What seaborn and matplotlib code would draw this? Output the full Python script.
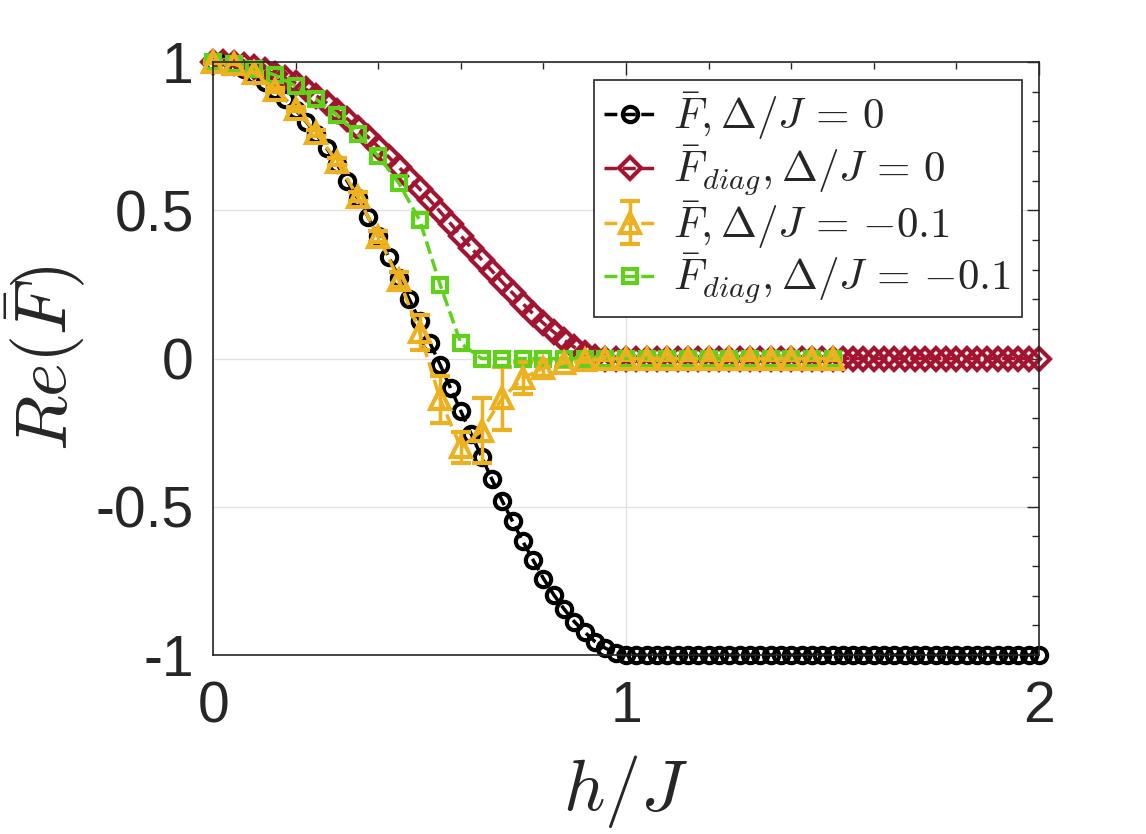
# Re(F) vs h/J, four series
import numpy as np
import matplotlib
matplotlib.use("Agg")
import matplotlib.pyplot as plt
import seaborn as sns
from matplotlib.ticker import MultipleLocator

# data
x_fine = np.round(np.arange(81) * 0.025, 3)    # 0 .. 2, step 0.025
x_coarse = np.round(np.arange(31) * 0.05, 3)   # 0 .. 1.5, step 0.05

F_0 = [1.000, 0.998, 0.991, 0.978, 0.958, 0.932, 0.905, 0.874, 0.838, 0.799,
       0.756, 0.709, 0.655, 0.598, 0.540, 0.478, 0.412, 0.343, 0.272, 0.200,
       0.127, 0.053, -0.022, -0.100, -0.178, -0.255, -0.331, -0.407, -0.480, -0.549,
       -0.617, -0.680, -0.742, -0.797, -0.845, -0.888, -0.923, -0.955, -0.977, -0.993] + [-1.0] * 41

Fdiag_0 = [1.000, 0.999, 0.996, 0.990, 0.982, 0.972, 0.960, 0.945, 0.928, 0.908,
           0.886, 0.862, 0.836, 0.808, 0.778, 0.747, 0.714, 0.680, 0.645, 0.609,
           0.572, 0.534, 0.495, 0.455, 0.414, 0.373, 0.334, 0.296, 0.258, 0.221,
           0.185, 0.151, 0.119, 0.089, 0.062, 0.038, 0.018, 0.005] + [0.0] * 43

F_m01 = [1.000, 0.995, 0.963, 0.906, 0.842, 0.760, 0.664, 0.546, 0.411, 0.266,
         0.088, -0.138, -0.300, -0.244, -0.134, -0.066, -0.032, -0.015, -0.005] + [0.0] * 12
F_m01_err = [0.002, 0.003, 0.005, 0.006, 0.008, 0.010, 0.012, 0.015, 0.018, 0.025,
             0.060, 0.080, 0.053, 0.110, 0.107, 0.055, 0.028, 0.015, 0.008] + [0.004] * 12

Fdiag_m01 = [1.000, 0.994, 0.978, 0.956, 0.919, 0.874, 0.821, 0.757, 0.683, 0.591,
             0.467, 0.248, 0.051] + [0.0] * 18

labels = [r"$\bar{F}, \Delta/J\,=\,0$",
          r"$\bar{F}_{diag}, \Delta/J\,=\,0$",
          r"$\bar{F}, \Delta/J\,=\,{-0.1}$",
          r"$\bar{F}_{diag}, \Delta/J\,=\,{-0.1}$"]

black = "#000000"
red = "#A2142F"
orange = "#EDB120"
green = "#5FD11A"

sns.set_style("white")
plt.rcParams["font.family"] = ["Liberation Sans", "DejaVu Sans"]
plt.rcParams["mathtext.fontset"] = "cm"
plt.rcParams["axes.unicode_minus"] = False

fig = plt.figure(figsize=(11.46, 8.34), dpi=100)
ax = fig.add_axes([0.186, 0.2146, 0.7206, 0.711])

lw = 2.5
mew = 3
sns.lineplot(x=x_fine, y=F_0, ax=ax, color=black, linestyle="--", lw=lw,
             marker="o", markersize=11, markerfacecolor="none",
             markeredgecolor=black, markeredgewidth=mew, label=labels[0],
             clip_on=False)
sns.lineplot(x=x_fine, y=Fdiag_0, ax=ax, color=red, linestyle="--", lw=lw,
             marker="D", markersize=11, markerfacecolor="none",
             markeredgecolor=red, markeredgewidth=mew, label=labels[1],
             clip_on=False)
eb = ax.errorbar(x_coarse, F_m01, yerr=F_m01_err, color=orange, linestyle="--", lw=lw,
                 marker="^", markersize=14, markerfacecolor="none",
                 markeredgecolor=orange, markeredgewidth=mew, elinewidth=lw,
                 capsize=7, capthick=lw, label=labels[2])
for art in eb.get_children():
    art.set_clip_on(False)
sns.lineplot(x=x_coarse, y=Fdiag_m01, ax=ax, color=green, linestyle="--", lw=lw,
             marker="s", markersize=10, markerfacecolor="none",
             markeredgecolor=green, markeredgewidth=mew, label=labels[3],
             clip_on=False)

ax.set_xlim(0, 2)
ax.set_ylim(-1, 1)
ax.set_xticks([0, 1, 2])
ax.set_xticklabels(["0", "1", "2"])
ax.set_yticks([-1, -0.5, 0, 0.5, 1])
ax.set_yticklabels(["-1", "-0.5", "0", "0.5", "1"])
ax.xaxis.set_minor_locator(MultipleLocator(0.2))
ax.yaxis.set_minor_locator(MultipleLocator(0.1))
ax.tick_params(which="both", direction="in", top=True, right=True,
               color="#262626", width=1)
ax.tick_params(which="major", length=9, labelsize=41)
ax.tick_params(axis="x", which="major", pad=18)
ax.tick_params(axis="y", which="major", pad=14)
ax.tick_params(which="minor", length=5)
ax.grid(True, which="major", color="#E2E2E2", lw=1)
for s in ax.spines.values():
    s.set_color("#262626")
    s.set_linewidth(1.2)

ax.set_xlabel(r"$h/J$", fontsize=52, labelpad=14)
ax.set_ylabel(r"$Re(\bar{F})$", fontsize=52, labelpad=6)

# legend order as in the reference
h, l = ax.get_legend_handles_labels()
h_by_label = dict(zip(l, h))
leg = ax.legend([h_by_label[t] for t in labels], labels,
                loc="upper right", bbox_to_anchor=(0.979, 0.97), borderaxespad=0,
                fontsize=31, frameon=True, fancybox=False, framealpha=1,
                edgecolor="#262626", handlelength=1.2, handletextpad=0.4,
                labelspacing=0.02, borderpad=0.25)
leg.get_frame().set_linewidth(1.2)

fig.savefig("out.png", dpi=100)
